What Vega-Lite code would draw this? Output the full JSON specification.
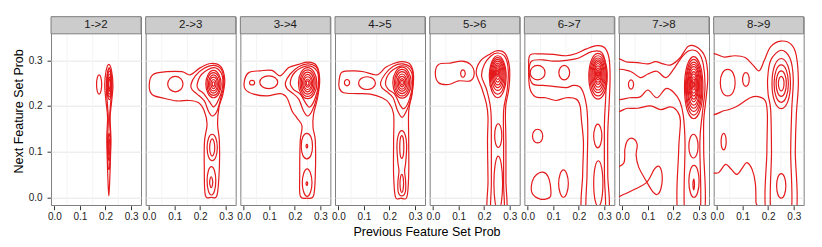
{
"$schema": "https://vega.github.io/schema/vega-lite/v6.json",
"padding": {"left": 12, "top": 15.7, "right": 5, "bottom": 5},
"autosize": {"type": "pad"},
"bounds": "flush",
"config": {"font": "Liberation Sans", "view": {"stroke": "#7f7f7f", "strokeWidth": 1}, "axisX": {"labelOverlap": false, "labelBound": false, "labelSeparation": -30}},
"spacing": 4.67,
"data": {"values": [
{"p":"1->2","c":"L","x":0.185,"y":0.247},{"p":"1->2","c":"L","x":0.182,"y":0.262},{"p":"1->2","c":"L","x":0.175,"y":0.268},{"p":"1->2","c":"L","x":0.168,"y":0.262},{"p":"1->2","c":"L","x":0.165,"y":0.247},{"p":"1->2","c":"L","x":0.168,"y":0.232},{"p":"1->2","c":"L","x":0.175,"y":0.226},{"p":"1->2","c":"L","x":0.182,"y":0.232},
{"p":"1->2","c":"O","x":0.213,"y":0.291},{"p":"1->2","c":"O","x":0.224,"y":0.276},{"p":"1->2","c":"O","x":0.229,"y":0.245},{"p":"1->2","c":"O","x":0.224,"y":0.21},{"p":"1->2","c":"O","x":0.218,"y":0.175},{"p":"1->2","c":"O","x":0.221,"y":0.13},{"p":"1->2","c":"O","x":0.219,"y":0.08},{"p":"1->2","c":"O","x":0.216,"y":0.03},{"p":"1->2","c":"O","x":0.213,"y":0.003},{"p":"1->2","c":"O","x":0.21,"y":0.03},{"p":"1->2","c":"O","x":0.207,"y":0.08},{"p":"1->2","c":"O","x":0.205,"y":0.13},{"p":"1->2","c":"O","x":0.208,"y":0.175},{"p":"1->2","c":"O","x":0.202,"y":0.21},{"p":"1->2","c":"O","x":0.197,"y":0.245},{"p":"1->2","c":"O","x":0.202,"y":0.276},
{"p":"1->2","c":"S","x":0.214,"y":0.284},{"p":"1->2","c":"S","x":0.222,"y":0.265},{"p":"1->2","c":"S","x":0.225,"y":0.24},{"p":"1->2","c":"S","x":0.219,"y":0.2},{"p":"1->2","c":"S","x":0.216,"y":0.17},{"p":"1->2","c":"S","x":0.22,"y":0.12},{"p":"1->2","c":"S","x":0.216,"y":0.068},{"p":"1->2","c":"S","x":0.213,"y":0.062},{"p":"1->2","c":"S","x":0.21,"y":0.068},{"p":"1->2","c":"S","x":0.208,"y":0.12},{"p":"1->2","c":"S","x":0.211,"y":0.17},{"p":"1->2","c":"S","x":0.208,"y":0.2},{"p":"1->2","c":"S","x":0.203,"y":0.24},{"p":"1->2","c":"S","x":0.206,"y":0.265},
{"p":"1->2","c":"R1","x":0.225,"y":0.248},{"p":"1->2","c":"R1","x":0.222,"y":0.272},{"p":"1->2","c":"R1","x":0.215,"y":0.282},{"p":"1->2","c":"R1","x":0.208,"y":0.272},{"p":"1->2","c":"R1","x":0.205,"y":0.248},{"p":"1->2","c":"R1","x":0.208,"y":0.224},{"p":"1->2","c":"R1","x":0.215,"y":0.214},{"p":"1->2","c":"R1","x":0.222,"y":0.224},
{"p":"1->2","c":"R2","x":0.223,"y":0.248},{"p":"1->2","c":"R2","x":0.221,"y":0.268},{"p":"1->2","c":"R2","x":0.215,"y":0.276},{"p":"1->2","c":"R2","x":0.209,"y":0.268},{"p":"1->2","c":"R2","x":0.207,"y":0.248},{"p":"1->2","c":"R2","x":0.209,"y":0.228},{"p":"1->2","c":"R2","x":0.215,"y":0.22},{"p":"1->2","c":"R2","x":0.221,"y":0.228},
{"p":"1->2","c":"R3","x":0.2215,"y":0.248},{"p":"1->2","c":"R3","x":0.22,"y":0.264},{"p":"1->2","c":"R3","x":0.215,"y":0.27},{"p":"1->2","c":"R3","x":0.21,"y":0.264},{"p":"1->2","c":"R3","x":0.2085,"y":0.248},{"p":"1->2","c":"R3","x":0.21,"y":0.232},{"p":"1->2","c":"R3","x":0.215,"y":0.226},{"p":"1->2","c":"R3","x":0.22,"y":0.232},
{"p":"1->2","c":"R4","x":0.22,"y":0.248},{"p":"1->2","c":"R4","x":0.2185,"y":0.259},{"p":"1->2","c":"R4","x":0.215,"y":0.264},{"p":"1->2","c":"R4","x":0.2115,"y":0.259},{"p":"1->2","c":"R4","x":0.21,"y":0.248},{"p":"1->2","c":"R4","x":0.2115,"y":0.237},{"p":"1->2","c":"R4","x":0.215,"y":0.232},{"p":"1->2","c":"R4","x":0.2185,"y":0.237},
{"p":"1->2","c":"R5","x":0.2185,"y":0.248},{"p":"1->2","c":"R5","x":0.2175,"y":0.256},{"p":"1->2","c":"R5","x":0.215,"y":0.259},{"p":"1->2","c":"R5","x":0.2125,"y":0.256},{"p":"1->2","c":"R5","x":0.2115,"y":0.248},{"p":"1->2","c":"R5","x":0.2125,"y":0.24},{"p":"1->2","c":"R5","x":0.215,"y":0.237},{"p":"1->2","c":"R5","x":0.2175,"y":0.24},
{"p":"1->2","c":"M1","x":0.2185,"y":0.11},{"p":"1->2","c":"M1","x":0.2172,"y":0.131},{"p":"1->2","c":"M1","x":0.214,"y":0.14},{"p":"1->2","c":"M1","x":0.2108,"y":0.131},{"p":"1->2","c":"M1","x":0.2095,"y":0.11},{"p":"1->2","c":"M1","x":0.2108,"y":0.089},{"p":"1->2","c":"M1","x":0.214,"y":0.08},{"p":"1->2","c":"M1","x":0.2172,"y":0.089},
{"p":"1->2","c":"M2","x":0.217,"y":0.11},{"p":"1->2","c":"M2","x":0.216,"y":0.123},{"p":"1->2","c":"M2","x":0.214,"y":0.128},{"p":"1->2","c":"M2","x":0.212,"y":0.123},{"p":"1->2","c":"M2","x":0.211,"y":0.11},{"p":"1->2","c":"M2","x":0.212,"y":0.097},{"p":"1->2","c":"M2","x":0.214,"y":0.092},{"p":"1->2","c":"M2","x":0.216,"y":0.097},

{"p":"2->3","c":"O","x":0.001,"y":0.247},{"p":"2->3","c":"O","x":0.016,"y":0.269},{"p":"2->3","c":"O","x":0.07,"y":0.275},{"p":"2->3","c":"O","x":0.129,"y":0.275},{"p":"2->3","c":"O","x":0.161,"y":0.268},{"p":"2->3","c":"O","x":0.201,"y":0.284},{"p":"2->3","c":"O","x":0.242,"y":0.293},{"p":"2->3","c":"O","x":0.281,"y":0.286},{"p":"2->3","c":"O","x":0.296,"y":0.258},{"p":"2->3","c":"O","x":0.289,"y":0.226},{"p":"2->3","c":"O","x":0.273,"y":0.196},{"p":"2->3","c":"O","x":0.268,"y":0.16},{"p":"2->3","c":"O","x":0.275,"y":0.123},{"p":"2->3","c":"O","x":0.275,"y":0.065},{"p":"2->3","c":"O","x":0.266,"y":0.005},{"p":"2->3","c":"O","x":0.243,"y":0.0},{"p":"2->3","c":"O","x":0.22,"y":0.005},{"p":"2->3","c":"O","x":0.216,"y":0.065},{"p":"2->3","c":"O","x":0.217,"y":0.123},{"p":"2->3","c":"O","x":0.227,"y":0.16},{"p":"2->3","c":"O","x":0.216,"y":0.189},{"p":"2->3","c":"O","x":0.194,"y":0.207},{"p":"2->3","c":"O","x":0.155,"y":0.212},{"p":"2->3","c":"O","x":0.109,"y":0.211},{"p":"2->3","c":"O","x":0.057,"y":0.217},{"p":"2->3","c":"O","x":0.012,"y":0.225},
{"p":"2->3","c":"A","x":0.133,"y":0.248},{"p":"2->3","c":"A","x":0.124,"y":0.26},{"p":"2->3","c":"A","x":0.103,"y":0.265},{"p":"2->3","c":"A","x":0.082,"y":0.26},{"p":"2->3","c":"A","x":0.073,"y":0.248},{"p":"2->3","c":"A","x":0.082,"y":0.236},{"p":"2->3","c":"A","x":0.103,"y":0.231},{"p":"2->3","c":"A","x":0.124,"y":0.236},
{"p":"2->3","c":"B","x":0.164,"y":0.247},{"p":"2->3","c":"B","x":0.181,"y":0.266},{"p":"2->3","c":"B","x":0.214,"y":0.282},{"p":"2->3","c":"B","x":0.253,"y":0.289},{"p":"2->3","c":"B","x":0.284,"y":0.279},{"p":"2->3","c":"B","x":0.292,"y":0.247},{"p":"2->3","c":"B","x":0.281,"y":0.218},{"p":"2->3","c":"B","x":0.266,"y":0.189},{"p":"2->3","c":"B","x":0.247,"y":0.178},{"p":"2->3","c":"B","x":0.232,"y":0.189},{"p":"2->3","c":"B","x":0.216,"y":0.211},{"p":"2->3","c":"B","x":0.188,"y":0.226},{"p":"2->3","c":"B","x":0.168,"y":0.236},
{"p":"2->3","c":"C","x":0.188,"y":0.247},{"p":"2->3","c":"C","x":0.207,"y":0.27},{"p":"2->3","c":"C","x":0.253,"y":0.284},{"p":"2->3","c":"C","x":0.283,"y":0.271},{"p":"2->3","c":"C","x":0.288,"y":0.244},{"p":"2->3","c":"C","x":0.273,"y":0.215},{"p":"2->3","c":"C","x":0.253,"y":0.198},{"p":"2->3","c":"C","x":0.237,"y":0.209},{"p":"2->3","c":"C","x":0.214,"y":0.227},{"p":"2->3","c":"C","x":0.194,"y":0.236},
{"p":"2->3","c":"R1","x":0.282,"y":0.248},{"p":"2->3","c":"R1","x":0.273,"y":0.269},{"p":"2->3","c":"R1","x":0.252,"y":0.278},{"p":"2->3","c":"R1","x":0.231,"y":0.269},{"p":"2->3","c":"R1","x":0.222,"y":0.248},{"p":"2->3","c":"R1","x":0.231,"y":0.227},{"p":"2->3","c":"R1","x":0.252,"y":0.218},{"p":"2->3","c":"R1","x":0.273,"y":0.227},
{"p":"2->3","c":"R2","x":0.277,"y":0.248},{"p":"2->3","c":"R2","x":0.27,"y":0.266},{"p":"2->3","c":"R2","x":0.252,"y":0.273},{"p":"2->3","c":"R2","x":0.234,"y":0.266},{"p":"2->3","c":"R2","x":0.227,"y":0.248},{"p":"2->3","c":"R2","x":0.234,"y":0.23},{"p":"2->3","c":"R2","x":0.252,"y":0.223},{"p":"2->3","c":"R2","x":0.27,"y":0.23},
{"p":"2->3","c":"R3","x":0.272,"y":0.248},{"p":"2->3","c":"R3","x":0.266,"y":0.262},{"p":"2->3","c":"R3","x":0.252,"y":0.268},{"p":"2->3","c":"R3","x":0.238,"y":0.262},{"p":"2->3","c":"R3","x":0.232,"y":0.248},{"p":"2->3","c":"R3","x":0.238,"y":0.234},{"p":"2->3","c":"R3","x":0.252,"y":0.228},{"p":"2->3","c":"R3","x":0.266,"y":0.234},
{"p":"2->3","c":"R4","x":0.267,"y":0.248},{"p":"2->3","c":"R4","x":0.263,"y":0.259},{"p":"2->3","c":"R4","x":0.252,"y":0.263},{"p":"2->3","c":"R4","x":0.241,"y":0.259},{"p":"2->3","c":"R4","x":0.237,"y":0.248},{"p":"2->3","c":"R4","x":0.241,"y":0.237},{"p":"2->3","c":"R4","x":0.252,"y":0.233},{"p":"2->3","c":"R4","x":0.263,"y":0.237},
{"p":"2->3","c":"R5","x":0.262,"y":0.248},{"p":"2->3","c":"R5","x":0.259,"y":0.255},{"p":"2->3","c":"R5","x":0.252,"y":0.258},{"p":"2->3","c":"R5","x":0.245,"y":0.255},{"p":"2->3","c":"R5","x":0.242,"y":0.248},{"p":"2->3","c":"R5","x":0.245,"y":0.241},{"p":"2->3","c":"R5","x":0.252,"y":0.238},{"p":"2->3","c":"R5","x":0.259,"y":0.241},
{"p":"2->3","c":"R6","x":0.257,"y":0.248},{"p":"2->3","c":"R6","x":0.2555,"y":0.2515},{"p":"2->3","c":"R6","x":0.252,"y":0.253},{"p":"2->3","c":"R6","x":0.2485,"y":0.2515},{"p":"2->3","c":"R6","x":0.247,"y":0.248},{"p":"2->3","c":"R6","x":0.2485,"y":0.2445},{"p":"2->3","c":"R6","x":0.252,"y":0.243},{"p":"2->3","c":"R6","x":0.2555,"y":0.2445},
{"p":"2->3","c":"V1","x":0.267,"y":0.109},{"p":"2->3","c":"V1","x":0.261,"y":0.13},{"p":"2->3","c":"V1","x":0.247,"y":0.138},{"p":"2->3","c":"V1","x":0.233,"y":0.13},{"p":"2->3","c":"V1","x":0.227,"y":0.109},{"p":"2->3","c":"V1","x":0.233,"y":0.088},{"p":"2->3","c":"V1","x":0.247,"y":0.08},{"p":"2->3","c":"V1","x":0.261,"y":0.088},
{"p":"2->3","c":"V2","x":0.257,"y":0.109},{"p":"2->3","c":"V2","x":0.254,"y":0.122},{"p":"2->3","c":"V2","x":0.247,"y":0.128},{"p":"2->3","c":"V2","x":0.24,"y":0.122},{"p":"2->3","c":"V2","x":0.237,"y":0.109},{"p":"2->3","c":"V2","x":0.24,"y":0.096},{"p":"2->3","c":"V2","x":0.247,"y":0.09},{"p":"2->3","c":"V2","x":0.254,"y":0.096},
{"p":"2->3","c":"W1","x":0.261,"y":0.036},{"p":"2->3","c":"W1","x":0.256,"y":0.058},{"p":"2->3","c":"W1","x":0.244,"y":0.067},{"p":"2->3","c":"W1","x":0.232,"y":0.058},{"p":"2->3","c":"W1","x":0.227,"y":0.036},{"p":"2->3","c":"W1","x":0.232,"y":0.014},{"p":"2->3","c":"W1","x":0.244,"y":0.005},{"p":"2->3","c":"W1","x":0.256,"y":0.014},
{"p":"2->3","c":"W2","x":0.249,"y":0.033},{"p":"2->3","c":"W2","x":0.247,"y":0.041},{"p":"2->3","c":"W2","x":0.243,"y":0.045},{"p":"2->3","c":"W2","x":0.239,"y":0.041},{"p":"2->3","c":"W2","x":0.237,"y":0.033},{"p":"2->3","c":"W2","x":0.239,"y":0.025},{"p":"2->3","c":"W2","x":0.243,"y":0.021},{"p":"2->3","c":"W2","x":0.247,"y":0.025},

{"p":"3->4","c":"O","x":0.003,"y":0.255},{"p":"3->4","c":"O","x":0.02,"y":0.273},{"p":"3->4","c":"O","x":0.065,"y":0.277},{"p":"3->4","c":"O","x":0.111,"y":0.278},{"p":"3->4","c":"O","x":0.143,"y":0.266},{"p":"3->4","c":"O","x":0.176,"y":0.284},{"p":"3->4","c":"O","x":0.215,"y":0.291},{"p":"3->4","c":"O","x":0.25,"y":0.296},{"p":"3->4","c":"O","x":0.284,"y":0.289},{"p":"3->4","c":"O","x":0.297,"y":0.258},{"p":"3->4","c":"O","x":0.289,"y":0.218},{"p":"3->4","c":"O","x":0.273,"y":0.182},{"p":"3->4","c":"O","x":0.271,"y":0.153},{"p":"3->4","c":"O","x":0.28,"y":0.123},{"p":"3->4","c":"O","x":0.28,"y":0.05},{"p":"3->4","c":"O","x":0.273,"y":0.003},{"p":"3->4","c":"O","x":0.247,"y":-0.002},{"p":"3->4","c":"O","x":0.221,"y":0.003},{"p":"3->4","c":"O","x":0.219,"y":0.05},{"p":"3->4","c":"O","x":0.221,"y":0.123},{"p":"3->4","c":"O","x":0.228,"y":0.156},{"p":"3->4","c":"O","x":0.208,"y":0.174},{"p":"3->4","c":"O","x":0.189,"y":0.189},{"p":"3->4","c":"O","x":0.169,"y":0.218},{"p":"3->4","c":"O","x":0.143,"y":0.227},{"p":"3->4","c":"O","x":0.091,"y":0.222},{"p":"3->4","c":"O","x":0.039,"y":0.226},{"p":"3->4","c":"O","x":0.007,"y":0.236},
{"p":"3->4","c":"T","x":0.043,"y":0.251},{"p":"3->4","c":"T","x":0.04,"y":0.255},{"p":"3->4","c":"T","x":0.033,"y":0.256},{"p":"3->4","c":"T","x":0.026,"y":0.255},{"p":"3->4","c":"T","x":0.023,"y":0.251},{"p":"3->4","c":"T","x":0.026,"y":0.247},{"p":"3->4","c":"T","x":0.033,"y":0.246},{"p":"3->4","c":"T","x":0.04,"y":0.247},
{"p":"3->4","c":"A","x":0.133,"y":0.252},{"p":"3->4","c":"A","x":0.123,"y":0.262},{"p":"3->4","c":"A","x":0.098,"y":0.266},{"p":"3->4","c":"A","x":0.073,"y":0.262},{"p":"3->4","c":"A","x":0.063,"y":0.252},{"p":"3->4","c":"A","x":0.073,"y":0.242},{"p":"3->4","c":"A","x":0.098,"y":0.238},{"p":"3->4","c":"A","x":0.123,"y":0.242},
{"p":"3->4","c":"B","x":0.163,"y":0.251},{"p":"3->4","c":"B","x":0.182,"y":0.27},{"p":"3->4","c":"B","x":0.215,"y":0.286},{"p":"3->4","c":"B","x":0.254,"y":0.292},{"p":"3->4","c":"B","x":0.289,"y":0.281},{"p":"3->4","c":"B","x":0.294,"y":0.247},{"p":"3->4","c":"B","x":0.284,"y":0.215},{"p":"3->4","c":"B","x":0.267,"y":0.189},{"p":"3->4","c":"B","x":0.25,"y":0.178},{"p":"3->4","c":"B","x":0.234,"y":0.189},{"p":"3->4","c":"B","x":0.215,"y":0.215},{"p":"3->4","c":"B","x":0.189,"y":0.229},{"p":"3->4","c":"B","x":0.169,"y":0.238},
{"p":"3->4","c":"C","x":0.182,"y":0.251},{"p":"3->4","c":"C","x":0.202,"y":0.275},{"p":"3->4","c":"C","x":0.25,"y":0.288},{"p":"3->4","c":"C","x":0.287,"y":0.276},{"p":"3->4","c":"C","x":0.292,"y":0.247},{"p":"3->4","c":"C","x":0.28,"y":0.218},{"p":"3->4","c":"C","x":0.26,"y":0.198},{"p":"3->4","c":"C","x":0.245,"y":0.204},{"p":"3->4","c":"C","x":0.221,"y":0.226},{"p":"3->4","c":"C","x":0.195,"y":0.236},
{"p":"3->4","c":"R1","x":0.286,"y":0.25},{"p":"3->4","c":"R1","x":0.275,"y":0.274},{"p":"3->4","c":"R1","x":0.25,"y":0.284},{"p":"3->4","c":"R1","x":0.225,"y":0.274},{"p":"3->4","c":"R1","x":0.214,"y":0.25},{"p":"3->4","c":"R1","x":0.225,"y":0.226},{"p":"3->4","c":"R1","x":0.25,"y":0.216},{"p":"3->4","c":"R1","x":0.275,"y":0.226},
{"p":"3->4","c":"R2","x":0.28,"y":0.25},{"p":"3->4","c":"R2","x":0.271,"y":0.271},{"p":"3->4","c":"R2","x":0.25,"y":0.279},{"p":"3->4","c":"R2","x":0.229,"y":0.271},{"p":"3->4","c":"R2","x":0.22,"y":0.25},{"p":"3->4","c":"R2","x":0.229,"y":0.229},{"p":"3->4","c":"R2","x":0.25,"y":0.221},{"p":"3->4","c":"R2","x":0.271,"y":0.229},
{"p":"3->4","c":"R3","x":0.275,"y":0.25},{"p":"3->4","c":"R3","x":0.268,"y":0.267},{"p":"3->4","c":"R3","x":0.25,"y":0.274},{"p":"3->4","c":"R3","x":0.232,"y":0.267},{"p":"3->4","c":"R3","x":0.225,"y":0.25},{"p":"3->4","c":"R3","x":0.232,"y":0.233},{"p":"3->4","c":"R3","x":0.25,"y":0.226},{"p":"3->4","c":"R3","x":0.268,"y":0.233},
{"p":"3->4","c":"R4","x":0.27,"y":0.25},{"p":"3->4","c":"R4","x":0.264,"y":0.263},{"p":"3->4","c":"R4","x":0.25,"y":0.269},{"p":"3->4","c":"R4","x":0.236,"y":0.263},{"p":"3->4","c":"R4","x":0.23,"y":0.25},{"p":"3->4","c":"R4","x":0.236,"y":0.237},{"p":"3->4","c":"R4","x":0.25,"y":0.231},{"p":"3->4","c":"R4","x":0.264,"y":0.237},
{"p":"3->4","c":"R5","x":0.265,"y":0.25},{"p":"3->4","c":"R5","x":0.261,"y":0.26},{"p":"3->4","c":"R5","x":0.25,"y":0.264},{"p":"3->4","c":"R5","x":0.239,"y":0.26},{"p":"3->4","c":"R5","x":0.235,"y":0.25},{"p":"3->4","c":"R5","x":0.239,"y":0.24},{"p":"3->4","c":"R5","x":0.25,"y":0.236},{"p":"3->4","c":"R5","x":0.261,"y":0.24},
{"p":"3->4","c":"R6","x":0.26,"y":0.25},{"p":"3->4","c":"R6","x":0.257,"y":0.256},{"p":"3->4","c":"R6","x":0.25,"y":0.259},{"p":"3->4","c":"R6","x":0.243,"y":0.256},{"p":"3->4","c":"R6","x":0.24,"y":0.25},{"p":"3->4","c":"R6","x":0.243,"y":0.244},{"p":"3->4","c":"R6","x":0.25,"y":0.241},{"p":"3->4","c":"R6","x":0.257,"y":0.244},
{"p":"3->4","c":"R7","x":0.255,"y":0.25},{"p":"3->4","c":"R7","x":0.2535,"y":0.2535},{"p":"3->4","c":"R7","x":0.25,"y":0.255},{"p":"3->4","c":"R7","x":0.2465,"y":0.2535},{"p":"3->4","c":"R7","x":0.245,"y":0.25},{"p":"3->4","c":"R7","x":0.2465,"y":0.2465},{"p":"3->4","c":"R7","x":0.25,"y":0.245},{"p":"3->4","c":"R7","x":0.2535,"y":0.2465},
{"p":"3->4","c":"V1","x":0.269,"y":0.112},{"p":"3->4","c":"V1","x":0.263,"y":0.132},{"p":"3->4","c":"V1","x":0.247,"y":0.14},{"p":"3->4","c":"V1","x":0.231,"y":0.132},{"p":"3->4","c":"V1","x":0.225,"y":0.112},{"p":"3->4","c":"V1","x":0.231,"y":0.092},{"p":"3->4","c":"V1","x":0.247,"y":0.084},{"p":"3->4","c":"V1","x":0.263,"y":0.092},
{"p":"3->4","c":"V2","x":0.25,"y":0.112},{"p":"3->4","c":"V2","x":0.249,"y":0.115},{"p":"3->4","c":"V2","x":0.247,"y":0.116},{"p":"3->4","c":"V2","x":0.245,"y":0.115},{"p":"3->4","c":"V2","x":0.244,"y":0.112},{"p":"3->4","c":"V2","x":0.245,"y":0.109},{"p":"3->4","c":"V2","x":0.247,"y":0.108},{"p":"3->4","c":"V2","x":0.249,"y":0.109},
{"p":"3->4","c":"W1","x":0.267,"y":0.032},{"p":"3->4","c":"W1","x":0.261,"y":0.053},{"p":"3->4","c":"W1","x":0.248,"y":0.062},{"p":"3->4","c":"W1","x":0.235,"y":0.053},{"p":"3->4","c":"W1","x":0.229,"y":0.032},{"p":"3->4","c":"W1","x":0.235,"y":0.011},{"p":"3->4","c":"W1","x":0.248,"y":0.002},{"p":"3->4","c":"W1","x":0.261,"y":0.011},
{"p":"3->4","c":"W2","x":0.25,"y":0.03},{"p":"3->4","c":"W2","x":0.249,"y":0.033},{"p":"3->4","c":"W2","x":0.247,"y":0.034},{"p":"3->4","c":"W2","x":0.245,"y":0.033},{"p":"3->4","c":"W2","x":0.244,"y":0.03},{"p":"3->4","c":"W2","x":0.245,"y":0.027},{"p":"3->4","c":"W2","x":0.247,"y":0.026},{"p":"3->4","c":"W2","x":0.249,"y":0.027},

{"p":"4->5","c":"O","x":0.003,"y":0.255},{"p":"4->5","c":"O","x":0.014,"y":0.274},{"p":"4->5","c":"O","x":0.06,"y":0.277},{"p":"4->5","c":"O","x":0.099,"y":0.275},{"p":"4->5","c":"O","x":0.151,"y":0.268},{"p":"4->5","c":"O","x":0.184,"y":0.284},{"p":"4->5","c":"O","x":0.216,"y":0.293},{"p":"4->5","c":"O","x":0.249,"y":0.297},{"p":"4->5","c":"O","x":0.281,"y":0.291},{"p":"4->5","c":"O","x":0.294,"y":0.266},{"p":"4->5","c":"O","x":0.288,"y":0.226},{"p":"4->5","c":"O","x":0.275,"y":0.189},{"p":"4->5","c":"O","x":0.275,"y":0.123},{"p":"4->5","c":"O","x":0.275,"y":0.05},{"p":"4->5","c":"O","x":0.268,"y":0.001},{"p":"4->5","c":"O","x":0.245,"y":-0.002},{"p":"4->5","c":"O","x":0.223,"y":0.001},{"p":"4->5","c":"O","x":0.216,"y":0.05},{"p":"4->5","c":"O","x":0.216,"y":0.123},{"p":"4->5","c":"O","x":0.216,"y":0.182},{"p":"4->5","c":"O","x":0.197,"y":0.207},{"p":"4->5","c":"O","x":0.171,"y":0.218},{"p":"4->5","c":"O","x":0.125,"y":0.226},{"p":"4->5","c":"O","x":0.073,"y":0.227},{"p":"4->5","c":"O","x":0.021,"y":0.229},{"p":"4->5","c":"O","x":0.004,"y":0.239},
{"p":"4->5","c":"T","x":0.044,"y":0.251},{"p":"4->5","c":"T","x":0.041,"y":0.256},{"p":"4->5","c":"T","x":0.034,"y":0.258},{"p":"4->5","c":"T","x":0.027,"y":0.256},{"p":"4->5","c":"T","x":0.024,"y":0.251},{"p":"4->5","c":"T","x":0.027,"y":0.246},{"p":"4->5","c":"T","x":0.034,"y":0.244},{"p":"4->5","c":"T","x":0.041,"y":0.246},
{"p":"4->5","c":"A","x":0.145,"y":0.25},{"p":"4->5","c":"A","x":0.135,"y":0.26},{"p":"4->5","c":"A","x":0.112,"y":0.264},{"p":"4->5","c":"A","x":0.089,"y":0.26},{"p":"4->5","c":"A","x":0.079,"y":0.25},{"p":"4->5","c":"A","x":0.089,"y":0.24},{"p":"4->5","c":"A","x":0.112,"y":0.236},{"p":"4->5","c":"A","x":0.135,"y":0.24},
{"p":"4->5","c":"B","x":0.165,"y":0.251},{"p":"4->5","c":"B","x":0.183,"y":0.27},{"p":"4->5","c":"B","x":0.215,"y":0.287},{"p":"4->5","c":"B","x":0.252,"y":0.292},{"p":"4->5","c":"B","x":0.287,"y":0.281},{"p":"4->5","c":"B","x":0.292,"y":0.25},{"p":"4->5","c":"B","x":0.283,"y":0.215},{"p":"4->5","c":"B","x":0.266,"y":0.189},{"p":"4->5","c":"B","x":0.249,"y":0.175},{"p":"4->5","c":"B","x":0.232,"y":0.189},{"p":"4->5","c":"B","x":0.214,"y":0.218},{"p":"4->5","c":"B","x":0.19,"y":0.231},{"p":"4->5","c":"B","x":0.17,"y":0.24},
{"p":"4->5","c":"C","x":0.184,"y":0.25},{"p":"4->5","c":"C","x":0.203,"y":0.274},{"p":"4->5","c":"C","x":0.249,"y":0.288},{"p":"4->5","c":"C","x":0.284,"y":0.276},{"p":"4->5","c":"C","x":0.29,"y":0.247},{"p":"4->5","c":"C","x":0.278,"y":0.215},{"p":"4->5","c":"C","x":0.259,"y":0.195},{"p":"4->5","c":"C","x":0.243,"y":0.2},{"p":"4->5","c":"C","x":0.22,"y":0.226},{"p":"4->5","c":"C","x":0.196,"y":0.236},
{"p":"4->5","c":"R1","x":0.285,"y":0.251},{"p":"4->5","c":"R1","x":0.274,"y":0.275},{"p":"4->5","c":"R1","x":0.249,"y":0.285},{"p":"4->5","c":"R1","x":0.224,"y":0.275},{"p":"4->5","c":"R1","x":0.213,"y":0.251},{"p":"4->5","c":"R1","x":0.224,"y":0.227},{"p":"4->5","c":"R1","x":0.249,"y":0.217},{"p":"4->5","c":"R1","x":0.274,"y":0.227},
{"p":"4->5","c":"R2","x":0.279,"y":0.251},{"p":"4->5","c":"R2","x":0.27,"y":0.272},{"p":"4->5","c":"R2","x":0.249,"y":0.28},{"p":"4->5","c":"R2","x":0.228,"y":0.272},{"p":"4->5","c":"R2","x":0.219,"y":0.251},{"p":"4->5","c":"R2","x":0.228,"y":0.23},{"p":"4->5","c":"R2","x":0.249,"y":0.222},{"p":"4->5","c":"R2","x":0.27,"y":0.23},
{"p":"4->5","c":"R3","x":0.274,"y":0.251},{"p":"4->5","c":"R3","x":0.267,"y":0.268},{"p":"4->5","c":"R3","x":0.249,"y":0.275},{"p":"4->5","c":"R3","x":0.231,"y":0.268},{"p":"4->5","c":"R3","x":0.224,"y":0.251},{"p":"4->5","c":"R3","x":0.231,"y":0.234},{"p":"4->5","c":"R3","x":0.249,"y":0.227},{"p":"4->5","c":"R3","x":0.267,"y":0.234},
{"p":"4->5","c":"R4","x":0.269,"y":0.251},{"p":"4->5","c":"R4","x":0.263,"y":0.264},{"p":"4->5","c":"R4","x":0.249,"y":0.27},{"p":"4->5","c":"R4","x":0.235,"y":0.264},{"p":"4->5","c":"R4","x":0.229,"y":0.251},{"p":"4->5","c":"R4","x":0.235,"y":0.238},{"p":"4->5","c":"R4","x":0.249,"y":0.232},{"p":"4->5","c":"R4","x":0.263,"y":0.238},
{"p":"4->5","c":"R5","x":0.264,"y":0.251},{"p":"4->5","c":"R5","x":0.26,"y":0.261},{"p":"4->5","c":"R5","x":0.249,"y":0.265},{"p":"4->5","c":"R5","x":0.238,"y":0.261},{"p":"4->5","c":"R5","x":0.234,"y":0.251},{"p":"4->5","c":"R5","x":0.238,"y":0.241},{"p":"4->5","c":"R5","x":0.249,"y":0.237},{"p":"4->5","c":"R5","x":0.26,"y":0.241},
{"p":"4->5","c":"R6","x":0.259,"y":0.251},{"p":"4->5","c":"R6","x":0.256,"y":0.257},{"p":"4->5","c":"R6","x":0.249,"y":0.26},{"p":"4->5","c":"R6","x":0.242,"y":0.257},{"p":"4->5","c":"R6","x":0.239,"y":0.251},{"p":"4->5","c":"R6","x":0.242,"y":0.245},{"p":"4->5","c":"R6","x":0.249,"y":0.242},{"p":"4->5","c":"R6","x":0.256,"y":0.245},
{"p":"4->5","c":"R7","x":0.254,"y":0.251},{"p":"4->5","c":"R7","x":0.2525,"y":0.2545},{"p":"4->5","c":"R7","x":0.249,"y":0.256},{"p":"4->5","c":"R7","x":0.2455,"y":0.2545},{"p":"4->5","c":"R7","x":0.244,"y":0.251},{"p":"4->5","c":"R7","x":0.2455,"y":0.2475},{"p":"4->5","c":"R7","x":0.249,"y":0.246},{"p":"4->5","c":"R7","x":0.2525,"y":0.2475},
{"p":"4->5","c":"V","x":0.248,"y":0.146},{"p":"4->5","c":"V","x":0.262,"y":0.135},{"p":"4->5","c":"V","x":0.267,"y":0.11},{"p":"4->5","c":"V","x":0.263,"y":0.075},{"p":"4->5","c":"V","x":0.259,"y":0.058},{"p":"4->5","c":"V","x":0.263,"y":0.035},{"p":"4->5","c":"V","x":0.262,"y":0.012},{"p":"4->5","c":"V","x":0.248,"y":0.003},{"p":"4->5","c":"V","x":0.234,"y":0.012},{"p":"4->5","c":"V","x":0.233,"y":0.035},{"p":"4->5","c":"V","x":0.237,"y":0.058},{"p":"4->5","c":"V","x":0.233,"y":0.075},{"p":"4->5","c":"V","x":0.229,"y":0.11},{"p":"4->5","c":"V","x":0.234,"y":0.135},
{"p":"4->5","c":"V2","x":0.256,"y":0.11},{"p":"4->5","c":"V2","x":0.254,"y":0.128},{"p":"4->5","c":"V2","x":0.248,"y":0.135},{"p":"4->5","c":"V2","x":0.242,"y":0.128},{"p":"4->5","c":"V2","x":0.24,"y":0.11},{"p":"4->5","c":"V2","x":0.242,"y":0.092},{"p":"4->5","c":"V2","x":0.248,"y":0.085},{"p":"4->5","c":"V2","x":0.254,"y":0.092},
{"p":"4->5","c":"W2","x":0.255,"y":0.03},{"p":"4->5","c":"W2","x":0.253,"y":0.044},{"p":"4->5","c":"W2","x":0.248,"y":0.05},{"p":"4->5","c":"W2","x":0.243,"y":0.044},{"p":"4->5","c":"W2","x":0.241,"y":0.03},{"p":"4->5","c":"W2","x":0.243,"y":0.016},{"p":"4->5","c":"W2","x":0.248,"y":0.01},{"p":"4->5","c":"W2","x":0.253,"y":0.016},

{"p":"5->6","c":"H","x":0.009,"y":0.272},{"p":"5->6","c":"H","x":0.022,"y":0.291},{"p":"5->6","c":"H","x":0.068,"y":0.294},{"p":"5->6","c":"H","x":0.113,"y":0.298},{"p":"5->6","c":"H","x":0.146,"y":0.291},{"p":"5->6","c":"H","x":0.161,"y":0.272},{"p":"5->6","c":"H","x":0.146,"y":0.255},{"p":"5->6","c":"H","x":0.1,"y":0.255},{"p":"5->6","c":"H","x":0.061,"y":0.247},{"p":"5->6","c":"H","x":0.022,"y":0.251},
{"p":"5->6","c":"A","x":0.126,"y":0.271},{"p":"5->6","c":"A","x":0.123,"y":0.277},{"p":"5->6","c":"A","x":0.117,"y":0.279},{"p":"5->6","c":"A","x":0.111,"y":0.277},{"p":"5->6","c":"A","x":0.108,"y":0.271},{"p":"5->6","c":"A","x":0.111,"y":0.265},{"p":"5->6","c":"A","x":0.117,"y":0.263},{"p":"5->6","c":"A","x":0.123,"y":0.265},
{"p":"5->6","c":"O","x":0.169,"y":0.272},{"p":"5->6","c":"O","x":0.185,"y":0.298},{"p":"5->6","c":"O","x":0.224,"y":0.314},{"p":"5->6","c":"O","x":0.253,"y":0.321},{"p":"5->6","c":"O","x":0.283,"y":0.314},{"p":"5->6","c":"O","x":0.299,"y":0.284},{"p":"5->6","c":"O","x":0.297,"y":0.24},{"p":"5->6","c":"O","x":0.285,"y":0.204},{"p":"5->6","c":"O","x":0.283,"y":0.174},{"p":"5->6","c":"O","x":0.285,"y":0.123},{"p":"5->6","c":"O","x":0.285,"y":0.036},{"p":"5->6","c":"O","x":0.285,"y":-0.04},{"p":"5->6","c":"O","x":0.215,"y":-0.04},{"p":"5->6","c":"O","x":0.215,"y":0.036},{"p":"5->6","c":"O","x":0.213,"y":0.123},{"p":"5->6","c":"O","x":0.215,"y":0.174},{"p":"5->6","c":"O","x":0.209,"y":0.204},{"p":"5->6","c":"O","x":0.19,"y":0.24},
{"p":"5->6","c":"S","x":0.19,"y":0.265},{"p":"5->6","c":"S","x":0.2,"y":0.29},{"p":"5->6","c":"S","x":0.225,"y":0.309},{"p":"5->6","c":"S","x":0.253,"y":0.316},{"p":"5->6","c":"S","x":0.282,"y":0.307},{"p":"5->6","c":"S","x":0.294,"y":0.28},{"p":"5->6","c":"S","x":0.29,"y":0.235},{"p":"5->6","c":"S","x":0.276,"y":0.19},{"p":"5->6","c":"S","x":0.276,"y":0.12},{"p":"5->6","c":"S","x":0.276,"y":0.03},{"p":"5->6","c":"S","x":0.276,"y":-0.04},{"p":"5->6","c":"S","x":0.228,"y":-0.04},{"p":"5->6","c":"S","x":0.228,"y":0.03},{"p":"5->6","c":"S","x":0.228,"y":0.12},{"p":"5->6","c":"S","x":0.226,"y":0.19},{"p":"5->6","c":"S","x":0.21,"y":0.235},
{"p":"5->6","c":"R1","x":0.286,"y":0.264},{"p":"5->6","c":"R1","x":0.276,"y":0.297},{"p":"5->6","c":"R1","x":0.253,"y":0.31},{"p":"5->6","c":"R1","x":0.23,"y":0.297},{"p":"5->6","c":"R1","x":0.22,"y":0.264},{"p":"5->6","c":"R1","x":0.23,"y":0.232},{"p":"5->6","c":"R1","x":0.253,"y":0.218},{"p":"5->6","c":"R1","x":0.276,"y":0.232},
{"p":"5->6","c":"R2","x":0.282,"y":0.266},{"p":"5->6","c":"R2","x":0.274,"y":0.294},{"p":"5->6","c":"R2","x":0.253,"y":0.306},{"p":"5->6","c":"R2","x":0.232,"y":0.294},{"p":"5->6","c":"R2","x":0.224,"y":0.266},{"p":"5->6","c":"R2","x":0.232,"y":0.238},{"p":"5->6","c":"R2","x":0.253,"y":0.226},{"p":"5->6","c":"R2","x":0.274,"y":0.238},
{"p":"5->6","c":"R3","x":0.278,"y":0.268},{"p":"5->6","c":"R3","x":0.271,"y":0.292},{"p":"5->6","c":"R3","x":0.253,"y":0.302},{"p":"5->6","c":"R3","x":0.235,"y":0.292},{"p":"5->6","c":"R3","x":0.228,"y":0.268},{"p":"5->6","c":"R3","x":0.235,"y":0.244},{"p":"5->6","c":"R3","x":0.253,"y":0.234},{"p":"5->6","c":"R3","x":0.271,"y":0.244},
{"p":"5->6","c":"R4","x":0.274,"y":0.269},{"p":"5->6","c":"R4","x":0.268,"y":0.29},{"p":"5->6","c":"R4","x":0.253,"y":0.298},{"p":"5->6","c":"R4","x":0.238,"y":0.29},{"p":"5->6","c":"R4","x":0.232,"y":0.269},{"p":"5->6","c":"R4","x":0.238,"y":0.249},{"p":"5->6","c":"R4","x":0.253,"y":0.24},{"p":"5->6","c":"R4","x":0.268,"y":0.249},
{"p":"5->6","c":"R5","x":0.27,"y":0.27},{"p":"5->6","c":"R5","x":0.265,"y":0.287},{"p":"5->6","c":"R5","x":0.253,"y":0.294},{"p":"5->6","c":"R5","x":0.241,"y":0.287},{"p":"5->6","c":"R5","x":0.236,"y":0.27},{"p":"5->6","c":"R5","x":0.241,"y":0.253},{"p":"5->6","c":"R5","x":0.253,"y":0.246},{"p":"5->6","c":"R5","x":0.265,"y":0.253},
{"p":"5->6","c":"R6","x":0.266,"y":0.271},{"p":"5->6","c":"R6","x":0.262,"y":0.284},{"p":"5->6","c":"R6","x":0.253,"y":0.29},{"p":"5->6","c":"R6","x":0.244,"y":0.284},{"p":"5->6","c":"R6","x":0.24,"y":0.271},{"p":"5->6","c":"R6","x":0.244,"y":0.258},{"p":"5->6","c":"R6","x":0.253,"y":0.252},{"p":"5->6","c":"R6","x":0.262,"y":0.258},
{"p":"5->6","c":"R7","x":0.262,"y":0.272},{"p":"5->6","c":"R7","x":0.259,"y":0.282},{"p":"5->6","c":"R7","x":0.253,"y":0.286},{"p":"5->6","c":"R7","x":0.247,"y":0.282},{"p":"5->6","c":"R7","x":0.244,"y":0.272},{"p":"5->6","c":"R7","x":0.247,"y":0.262},{"p":"5->6","c":"R7","x":0.253,"y":0.258},{"p":"5->6","c":"R7","x":0.259,"y":0.262},
{"p":"5->6","c":"R8","x":0.259,"y":0.273},{"p":"5->6","c":"R8","x":0.257,"y":0.279},{"p":"5->6","c":"R8","x":0.253,"y":0.282},{"p":"5->6","c":"R8","x":0.249,"y":0.279},{"p":"5->6","c":"R8","x":0.247,"y":0.273},{"p":"5->6","c":"R8","x":0.249,"y":0.267},{"p":"5->6","c":"R8","x":0.253,"y":0.264},{"p":"5->6","c":"R8","x":0.257,"y":0.267},
{"p":"5->6","c":"R9","x":0.256,"y":0.273},{"p":"5->6","c":"R9","x":0.255,"y":0.277},{"p":"5->6","c":"R9","x":0.253,"y":0.278},{"p":"5->6","c":"R9","x":0.251,"y":0.277},{"p":"5->6","c":"R9","x":0.25,"y":0.273},{"p":"5->6","c":"R9","x":0.251,"y":0.269},{"p":"5->6","c":"R9","x":0.253,"y":0.268},{"p":"5->6","c":"R9","x":0.255,"y":0.269},
{"p":"5->6","c":"V1","x":0.269,"y":0.135},{"p":"5->6","c":"V1","x":0.265,"y":0.153},{"p":"5->6","c":"V1","x":0.255,"y":0.161},{"p":"5->6","c":"V1","x":0.245,"y":0.153},{"p":"5->6","c":"V1","x":0.241,"y":0.135},{"p":"5->6","c":"V1","x":0.245,"y":0.117},{"p":"5->6","c":"V1","x":0.255,"y":0.109},{"p":"5->6","c":"V1","x":0.265,"y":0.117},
{"p":"5->6","c":"W1","x":0.272,"y":0.03},{"p":"5->6","c":"W1","x":0.267,"y":0.072},{"p":"5->6","c":"W1","x":0.255,"y":0.09},{"p":"5->6","c":"W1","x":0.243,"y":0.072},{"p":"5->6","c":"W1","x":0.238,"y":0.03},{"p":"5->6","c":"W1","x":0.243,"y":-0.012},{"p":"5->6","c":"W1","x":0.255,"y":-0.03},{"p":"5->6","c":"W1","x":0.267,"y":-0.012},

{"p":"6->7","c":"O","x":0.004,"y":0.29},{"p":"6->7","c":"O","x":0.01,"y":0.312},{"p":"6->7","c":"O","x":0.05,"y":0.314},{"p":"6->7","c":"O","x":0.1,"y":0.313},{"p":"6->7","c":"O","x":0.15,"y":0.31},{"p":"6->7","c":"O","x":0.19,"y":0.315},{"p":"6->7","c":"O","x":0.23,"y":0.325},{"p":"6->7","c":"O","x":0.27,"y":0.332},{"p":"6->7","c":"O","x":0.3,"y":0.328},{"p":"6->7","c":"O","x":0.318,"y":0.305},{"p":"6->7","c":"O","x":0.322,"y":0.26},{"p":"6->7","c":"O","x":0.318,"y":0.2},{"p":"6->7","c":"O","x":0.313,"y":0.14},{"p":"6->7","c":"O","x":0.313,"y":0.05},{"p":"6->7","c":"O","x":0.313,"y":-0.04},{"p":"6->7","c":"O","x":0.215,"y":-0.04},{"p":"6->7","c":"O","x":0.215,"y":0.05},{"p":"6->7","c":"O","x":0.218,"y":0.12},{"p":"6->7","c":"O","x":0.21,"y":0.17},{"p":"6->7","c":"O","x":0.205,"y":0.2},{"p":"6->7","c":"O","x":0.19,"y":0.215},{"p":"6->7","c":"O","x":0.15,"y":0.218},{"p":"6->7","c":"O","x":0.11,"y":0.212},{"p":"6->7","c":"O","x":0.07,"y":0.218},{"p":"6->7","c":"O","x":0.03,"y":0.22},{"p":"6->7","c":"O","x":0.008,"y":0.24},
{"p":"6->7","c":"S","x":0.006,"y":0.272},{"p":"6->7","c":"S","x":0.015,"y":0.298},{"p":"6->7","c":"S","x":0.06,"y":0.301},{"p":"6->7","c":"S","x":0.1,"y":0.298},{"p":"6->7","c":"S","x":0.15,"y":0.3},{"p":"6->7","c":"S","x":0.2,"y":0.305},{"p":"6->7","c":"S","x":0.25,"y":0.319},{"p":"6->7","c":"S","x":0.29,"y":0.317},{"p":"6->7","c":"S","x":0.307,"y":0.28},{"p":"6->7","c":"S","x":0.305,"y":0.22},{"p":"6->7","c":"S","x":0.3,"y":0.16},{"p":"6->7","c":"S","x":0.3,"y":0.05},{"p":"6->7","c":"S","x":0.3,"y":-0.04},{"p":"6->7","c":"S","x":0.232,"y":-0.04},{"p":"6->7","c":"S","x":0.232,"y":0.05},{"p":"6->7","c":"S","x":0.235,"y":0.15},{"p":"6->7","c":"S","x":0.23,"y":0.2},{"p":"6->7","c":"S","x":0.21,"y":0.238},{"p":"6->7","c":"S","x":0.18,"y":0.245},{"p":"6->7","c":"S","x":0.15,"y":0.24},{"p":"6->7","c":"S","x":0.1,"y":0.243},{"p":"6->7","c":"S","x":0.06,"y":0.245},{"p":"6->7","c":"S","x":0.02,"y":0.248},
{"p":"6->7","c":"A","x":0.068,"y":0.273},{"p":"6->7","c":"A","x":0.06,"y":0.284},{"p":"6->7","c":"A","x":0.039,"y":0.289},{"p":"6->7","c":"A","x":0.018,"y":0.284},{"p":"6->7","c":"A","x":0.01,"y":0.273},{"p":"6->7","c":"A","x":0.018,"y":0.262},{"p":"6->7","c":"A","x":0.039,"y":0.257},{"p":"6->7","c":"A","x":0.06,"y":0.262},
{"p":"6->7","c":"B","x":0.164,"y":0.273},{"p":"6->7","c":"B","x":0.158,"y":0.284},{"p":"6->7","c":"B","x":0.143,"y":0.289},{"p":"6->7","c":"B","x":0.128,"y":0.284},{"p":"6->7","c":"B","x":0.122,"y":0.273},{"p":"6->7","c":"B","x":0.128,"y":0.262},{"p":"6->7","c":"B","x":0.143,"y":0.257},{"p":"6->7","c":"B","x":0.158,"y":0.262},
{"p":"6->7","c":"R1","x":0.311,"y":0.265},{"p":"6->7","c":"R1","x":0.301,"y":0.3},{"p":"6->7","c":"R1","x":0.275,"y":0.315},{"p":"6->7","c":"R1","x":0.249,"y":0.3},{"p":"6->7","c":"R1","x":0.239,"y":0.265},{"p":"6->7","c":"R1","x":0.249,"y":0.23},{"p":"6->7","c":"R1","x":0.275,"y":0.215},{"p":"6->7","c":"R1","x":0.301,"y":0.23},
{"p":"6->7","c":"R2","x":0.307,"y":0.266},{"p":"6->7","c":"R2","x":0.298,"y":0.297},{"p":"6->7","c":"R2","x":0.275,"y":0.31},{"p":"6->7","c":"R2","x":0.252,"y":0.297},{"p":"6->7","c":"R2","x":0.243,"y":0.266},{"p":"6->7","c":"R2","x":0.252,"y":0.235},{"p":"6->7","c":"R2","x":0.275,"y":0.222},{"p":"6->7","c":"R2","x":0.298,"y":0.235},
{"p":"6->7","c":"R3","x":0.303,"y":0.267},{"p":"6->7","c":"R3","x":0.295,"y":0.294},{"p":"6->7","c":"R3","x":0.275,"y":0.305},{"p":"6->7","c":"R3","x":0.255,"y":0.294},{"p":"6->7","c":"R3","x":0.247,"y":0.267},{"p":"6->7","c":"R3","x":0.255,"y":0.24},{"p":"6->7","c":"R3","x":0.275,"y":0.229},{"p":"6->7","c":"R3","x":0.295,"y":0.24},
{"p":"6->7","c":"R4","x":0.299,"y":0.268},{"p":"6->7","c":"R4","x":0.292,"y":0.291},{"p":"6->7","c":"R4","x":0.275,"y":0.301},{"p":"6->7","c":"R4","x":0.258,"y":0.291},{"p":"6->7","c":"R4","x":0.251,"y":0.268},{"p":"6->7","c":"R4","x":0.258,"y":0.245},{"p":"6->7","c":"R4","x":0.275,"y":0.235},{"p":"6->7","c":"R4","x":0.292,"y":0.245},
{"p":"6->7","c":"R5","x":0.295,"y":0.269},{"p":"6->7","c":"R5","x":0.289,"y":0.289},{"p":"6->7","c":"R5","x":0.275,"y":0.297},{"p":"6->7","c":"R5","x":0.261,"y":0.289},{"p":"6->7","c":"R5","x":0.255,"y":0.269},{"p":"6->7","c":"R5","x":0.261,"y":0.249},{"p":"6->7","c":"R5","x":0.275,"y":0.241},{"p":"6->7","c":"R5","x":0.289,"y":0.249},
{"p":"6->7","c":"R6","x":0.291,"y":0.27},{"p":"6->7","c":"R6","x":0.286,"y":0.286},{"p":"6->7","c":"R6","x":0.275,"y":0.293},{"p":"6->7","c":"R6","x":0.264,"y":0.286},{"p":"6->7","c":"R6","x":0.259,"y":0.27},{"p":"6->7","c":"R6","x":0.264,"y":0.254},{"p":"6->7","c":"R6","x":0.275,"y":0.247},{"p":"6->7","c":"R6","x":0.286,"y":0.254},
{"p":"6->7","c":"R7","x":0.288,"y":0.27},{"p":"6->7","c":"R7","x":0.284,"y":0.283},{"p":"6->7","c":"R7","x":0.275,"y":0.288},{"p":"6->7","c":"R7","x":0.266,"y":0.283},{"p":"6->7","c":"R7","x":0.262,"y":0.27},{"p":"6->7","c":"R7","x":0.266,"y":0.257},{"p":"6->7","c":"R7","x":0.275,"y":0.252},{"p":"6->7","c":"R7","x":0.284,"y":0.257},
{"p":"6->7","c":"R8","x":0.285,"y":0.27},{"p":"6->7","c":"R8","x":0.282,"y":0.279},{"p":"6->7","c":"R8","x":0.275,"y":0.283},{"p":"6->7","c":"R8","x":0.268,"y":0.279},{"p":"6->7","c":"R8","x":0.265,"y":0.27},{"p":"6->7","c":"R8","x":0.268,"y":0.261},{"p":"6->7","c":"R8","x":0.275,"y":0.257},{"p":"6->7","c":"R8","x":0.282,"y":0.261},
{"p":"6->7","c":"R9","x":0.281,"y":0.27},{"p":"6->7","c":"R9","x":0.279,"y":0.276},{"p":"6->7","c":"R9","x":0.275,"y":0.279},{"p":"6->7","c":"R9","x":0.271,"y":0.276},{"p":"6->7","c":"R9","x":0.269,"y":0.27},{"p":"6->7","c":"R9","x":0.271,"y":0.264},{"p":"6->7","c":"R9","x":0.275,"y":0.261},{"p":"6->7","c":"R9","x":0.279,"y":0.264},
{"p":"6->7","c":"R10","x":0.278,"y":0.27},{"p":"6->7","c":"R10","x":0.277,"y":0.274},{"p":"6->7","c":"R10","x":0.275,"y":0.275},{"p":"6->7","c":"R10","x":0.273,"y":0.274},{"p":"6->7","c":"R10","x":0.272,"y":0.27},{"p":"6->7","c":"R10","x":0.273,"y":0.266},{"p":"6->7","c":"R10","x":0.275,"y":0.265},{"p":"6->7","c":"R10","x":0.277,"y":0.266},
{"p":"6->7","c":"V1","x":0.29,"y":0.134},{"p":"6->7","c":"V1","x":0.285,"y":0.152},{"p":"6->7","c":"V1","x":0.274,"y":0.16},{"p":"6->7","c":"V1","x":0.263,"y":0.152},{"p":"6->7","c":"V1","x":0.258,"y":0.134},{"p":"6->7","c":"V1","x":0.263,"y":0.116},{"p":"6->7","c":"V1","x":0.274,"y":0.108},{"p":"6->7","c":"V1","x":0.285,"y":0.116},
{"p":"6->7","c":"W1","x":0.294,"y":0.03},{"p":"6->7","c":"W1","x":0.289,"y":0.065},{"p":"6->7","c":"W1","x":0.276,"y":0.08},{"p":"6->7","c":"W1","x":0.263,"y":0.065},{"p":"6->7","c":"W1","x":0.258,"y":0.03},{"p":"6->7","c":"W1","x":0.263,"y":-0.005},{"p":"6->7","c":"W1","x":0.276,"y":-0.02},{"p":"6->7","c":"W1","x":0.289,"y":-0.005},
{"p":"6->7","c":"D1","x":0.059,"y":0.134},{"p":"6->7","c":"D1","x":0.053,"y":0.145},{"p":"6->7","c":"D1","x":0.039,"y":0.149},{"p":"6->7","c":"D1","x":0.025,"y":0.145},{"p":"6->7","c":"D1","x":0.019,"y":0.134},{"p":"6->7","c":"D1","x":0.025,"y":0.123},{"p":"6->7","c":"D1","x":0.039,"y":0.119},{"p":"6->7","c":"D1","x":0.053,"y":0.123},
{"p":"6->7","c":"D2","x":0.017,"y":0.01},{"p":"6->7","c":"D2","x":0.018,"y":0.035},{"p":"6->7","c":"D2","x":0.035,"y":0.05},{"p":"6->7","c":"D2","x":0.06,"y":0.055},{"p":"6->7","c":"D2","x":0.08,"y":0.045},{"p":"6->7","c":"D2","x":0.09,"y":0.02},{"p":"6->7","c":"D2","x":0.087,"y":0.0},{"p":"6->7","c":"D2","x":0.05,"y":-0.004},
{"p":"6->7","c":"D3","x":0.159,"y":0.03},{"p":"6->7","c":"D3","x":0.153,"y":0.051},{"p":"6->7","c":"D3","x":0.14,"y":0.06},{"p":"6->7","c":"D3","x":0.127,"y":0.051},{"p":"6->7","c":"D3","x":0.121,"y":0.03},{"p":"6->7","c":"D3","x":0.127,"y":0.009},{"p":"6->7","c":"D3","x":0.14,"y":0.0},{"p":"6->7","c":"D3","x":0.153,"y":0.009},

{"p":"7->8","c":"O","x":-0.03,"y":0.195},{"p":"7->8","c":"O","x":-0.03,"y":0.296},{"p":"7->8","c":"O","x":0.02,"y":0.296},{"p":"7->8","c":"O","x":0.06,"y":0.295},{"p":"7->8","c":"O","x":0.1,"y":0.292},{"p":"7->8","c":"O","x":0.13,"y":0.297},{"p":"7->8","c":"O","x":0.16,"y":0.292},{"p":"7->8","c":"O","x":0.19,"y":0.29},{"p":"7->8","c":"O","x":0.225,"y":0.305},{"p":"7->8","c":"O","x":0.258,"y":0.331},{"p":"7->8","c":"O","x":0.294,"y":0.328},{"p":"7->8","c":"O","x":0.324,"y":0.306},{"p":"7->8","c":"O","x":0.334,"y":0.262},{"p":"7->8","c":"O","x":0.326,"y":0.211},{"p":"7->8","c":"O","x":0.318,"y":0.167},{"p":"7->8","c":"O","x":0.318,"y":0.1},{"p":"7->8","c":"O","x":0.318,"y":-0.04},{"p":"7->8","c":"O","x":0.22,"y":-0.04},{"p":"7->8","c":"O","x":0.22,"y":0.1},{"p":"7->8","c":"O","x":0.227,"y":0.167},{"p":"7->8","c":"O","x":0.214,"y":0.189},{"p":"7->8","c":"O","x":0.188,"y":0.198},{"p":"7->8","c":"O","x":0.15,"y":0.192},{"p":"7->8","c":"O","x":0.11,"y":0.2},{"p":"7->8","c":"O","x":0.06,"y":0.195},{"p":"7->8","c":"O","x":0.02,"y":0.195},
{"p":"7->8","c":"S","x":-0.03,"y":0.218},{"p":"7->8","c":"S","x":-0.03,"y":0.276},{"p":"7->8","c":"S","x":0.03,"y":0.276},{"p":"7->8","c":"S","x":0.07,"y":0.262},{"p":"7->8","c":"S","x":0.1,"y":0.27},{"p":"7->8","c":"S","x":0.135,"y":0.276},{"p":"7->8","c":"S","x":0.17,"y":0.262},{"p":"7->8","c":"S","x":0.2,"y":0.28},{"p":"7->8","c":"S","x":0.23,"y":0.305},{"p":"7->8","c":"S","x":0.26,"y":0.321},{"p":"7->8","c":"S","x":0.295,"y":0.318},{"p":"7->8","c":"S","x":0.316,"y":0.292},{"p":"7->8","c":"S","x":0.323,"y":0.24},{"p":"7->8","c":"S","x":0.312,"y":0.18},{"p":"7->8","c":"S","x":0.303,"y":0.12},{"p":"7->8","c":"S","x":0.303,"y":-0.04},{"p":"7->8","c":"S","x":0.245,"y":-0.04},{"p":"7->8","c":"S","x":0.245,"y":0.12},{"p":"7->8","c":"S","x":0.238,"y":0.18},{"p":"7->8","c":"S","x":0.225,"y":0.21},{"p":"7->8","c":"S","x":0.2,"y":0.23},{"p":"7->8","c":"S","x":0.17,"y":0.238},{"p":"7->8","c":"S","x":0.135,"y":0.218},{"p":"7->8","c":"S","x":0.1,"y":0.235},{"p":"7->8","c":"S","x":0.07,"y":0.22},{"p":"7->8","c":"S","x":0.03,"y":0.218},
{"p":"7->8","c":"T","x":0.044,"y":0.247},{"p":"7->8","c":"T","x":0.041,"y":0.254},{"p":"7->8","c":"T","x":0.034,"y":0.257},{"p":"7->8","c":"T","x":0.027,"y":0.254},{"p":"7->8","c":"T","x":0.024,"y":0.247},{"p":"7->8","c":"T","x":0.027,"y":0.24},{"p":"7->8","c":"T","x":0.034,"y":0.237},{"p":"7->8","c":"T","x":0.041,"y":0.24},
{"p":"7->8","c":"R1","x":0.315,"y":0.24},{"p":"7->8","c":"R1","x":0.305,"y":0.288},{"p":"7->8","c":"R1","x":0.279,"y":0.308},{"p":"7->8","c":"R1","x":0.253,"y":0.288},{"p":"7->8","c":"R1","x":0.243,"y":0.24},{"p":"7->8","c":"R1","x":0.253,"y":0.192},{"p":"7->8","c":"R1","x":0.279,"y":0.172},{"p":"7->8","c":"R1","x":0.305,"y":0.192},
{"p":"7->8","c":"R2","x":0.311,"y":0.241},{"p":"7->8","c":"R2","x":0.302,"y":0.284},{"p":"7->8","c":"R2","x":0.279,"y":0.302},{"p":"7->8","c":"R2","x":0.256,"y":0.284},{"p":"7->8","c":"R2","x":0.247,"y":0.241},{"p":"7->8","c":"R2","x":0.256,"y":0.198},{"p":"7->8","c":"R2","x":0.279,"y":0.18},{"p":"7->8","c":"R2","x":0.302,"y":0.198},
{"p":"7->8","c":"R3","x":0.308,"y":0.242},{"p":"7->8","c":"R3","x":0.3,"y":0.28},{"p":"7->8","c":"R3","x":0.279,"y":0.296},{"p":"7->8","c":"R3","x":0.258,"y":0.28},{"p":"7->8","c":"R3","x":0.25,"y":0.242},{"p":"7->8","c":"R3","x":0.258,"y":0.204},{"p":"7->8","c":"R3","x":0.279,"y":0.188},{"p":"7->8","c":"R3","x":0.3,"y":0.204},
{"p":"7->8","c":"R4","x":0.304,"y":0.243},{"p":"7->8","c":"R4","x":0.297,"y":0.277},{"p":"7->8","c":"R4","x":0.279,"y":0.291},{"p":"7->8","c":"R4","x":0.261,"y":0.277},{"p":"7->8","c":"R4","x":0.254,"y":0.243},{"p":"7->8","c":"R4","x":0.261,"y":0.209},{"p":"7->8","c":"R4","x":0.279,"y":0.195},{"p":"7->8","c":"R4","x":0.297,"y":0.209},
{"p":"7->8","c":"R5","x":0.301,"y":0.244},{"p":"7->8","c":"R5","x":0.295,"y":0.274},{"p":"7->8","c":"R5","x":0.279,"y":0.286},{"p":"7->8","c":"R5","x":0.263,"y":0.274},{"p":"7->8","c":"R5","x":0.257,"y":0.244},{"p":"7->8","c":"R5","x":0.263,"y":0.214},{"p":"7->8","c":"R5","x":0.279,"y":0.202},{"p":"7->8","c":"R5","x":0.295,"y":0.214},
{"p":"7->8","c":"R6","x":0.298,"y":0.245},{"p":"7->8","c":"R6","x":0.292,"y":0.271},{"p":"7->8","c":"R6","x":0.279,"y":0.281},{"p":"7->8","c":"R6","x":0.266,"y":0.271},{"p":"7->8","c":"R6","x":0.26,"y":0.245},{"p":"7->8","c":"R6","x":0.266,"y":0.22},{"p":"7->8","c":"R6","x":0.279,"y":0.209},{"p":"7->8","c":"R6","x":0.292,"y":0.22},
{"p":"7->8","c":"R7","x":0.295,"y":0.245},{"p":"7->8","c":"R7","x":0.29,"y":0.266},{"p":"7->8","c":"R7","x":0.279,"y":0.275},{"p":"7->8","c":"R7","x":0.268,"y":0.266},{"p":"7->8","c":"R7","x":0.263,"y":0.245},{"p":"7->8","c":"R7","x":0.268,"y":0.224},{"p":"7->8","c":"R7","x":0.279,"y":0.215},{"p":"7->8","c":"R7","x":0.29,"y":0.224},
{"p":"7->8","c":"R8","x":0.292,"y":0.246},{"p":"7->8","c":"R8","x":0.288,"y":0.263},{"p":"7->8","c":"R8","x":0.279,"y":0.27},{"p":"7->8","c":"R8","x":0.27,"y":0.263},{"p":"7->8","c":"R8","x":0.266,"y":0.246},{"p":"7->8","c":"R8","x":0.27,"y":0.229},{"p":"7->8","c":"R8","x":0.279,"y":0.222},{"p":"7->8","c":"R8","x":0.288,"y":0.229},
{"p":"7->8","c":"R9","x":0.289,"y":0.246},{"p":"7->8","c":"R9","x":0.286,"y":0.259},{"p":"7->8","c":"R9","x":0.279,"y":0.264},{"p":"7->8","c":"R9","x":0.272,"y":0.259},{"p":"7->8","c":"R9","x":0.269,"y":0.246},{"p":"7->8","c":"R9","x":0.272,"y":0.233},{"p":"7->8","c":"R9","x":0.279,"y":0.228},{"p":"7->8","c":"R9","x":0.286,"y":0.233},
{"p":"7->8","c":"R10","x":0.285,"y":0.247},{"p":"7->8","c":"R10","x":0.283,"y":0.256},{"p":"7->8","c":"R10","x":0.279,"y":0.259},{"p":"7->8","c":"R10","x":0.275,"y":0.256},{"p":"7->8","c":"R10","x":0.273,"y":0.247},{"p":"7->8","c":"R10","x":0.275,"y":0.238},{"p":"7->8","c":"R10","x":0.279,"y":0.235},{"p":"7->8","c":"R10","x":0.283,"y":0.238},
{"p":"7->8","c":"R11","x":0.282,"y":0.247},{"p":"7->8","c":"R11","x":0.281,"y":0.251},{"p":"7->8","c":"R11","x":0.279,"y":0.253},{"p":"7->8","c":"R11","x":0.277,"y":0.251},{"p":"7->8","c":"R11","x":0.276,"y":0.247},{"p":"7->8","c":"R11","x":0.277,"y":0.243},{"p":"7->8","c":"R11","x":0.279,"y":0.241},{"p":"7->8","c":"R11","x":0.281,"y":0.243},
{"p":"7->8","c":"V1","x":0.296,"y":0.112},{"p":"7->8","c":"V1","x":0.291,"y":0.13},{"p":"7->8","c":"V1","x":0.278,"y":0.138},{"p":"7->8","c":"V1","x":0.265,"y":0.13},{"p":"7->8","c":"V1","x":0.26,"y":0.112},{"p":"7->8","c":"V1","x":0.265,"y":0.094},{"p":"7->8","c":"V1","x":0.278,"y":0.086},{"p":"7->8","c":"V1","x":0.291,"y":0.094},
{"p":"7->8","c":"W1","x":0.3,"y":0.035},{"p":"7->8","c":"W1","x":0.294,"y":0.06},{"p":"7->8","c":"W1","x":0.28,"y":0.07},{"p":"7->8","c":"W1","x":0.266,"y":0.06},{"p":"7->8","c":"W1","x":0.26,"y":0.035},{"p":"7->8","c":"W1","x":0.266,"y":0.01},{"p":"7->8","c":"W1","x":0.28,"y":0.0},{"p":"7->8","c":"W1","x":0.294,"y":0.01},
{"p":"7->8","c":"W2","x":0.282,"y":0.028},{"p":"7->8","c":"W2","x":0.281,"y":0.036},{"p":"7->8","c":"W2","x":0.279,"y":0.04},{"p":"7->8","c":"W2","x":0.277,"y":0.036},{"p":"7->8","c":"W2","x":0.276,"y":0.028},{"p":"7->8","c":"W2","x":0.277,"y":0.02},{"p":"7->8","c":"W2","x":0.279,"y":0.016},{"p":"7->8","c":"W2","x":0.281,"y":0.02},
{"p":"7->8","c":"D1","x":0.006,"y":0.075},{"p":"7->8","c":"D1","x":0.01,"y":0.105},{"p":"7->8","c":"D1","x":0.02,"y":0.124},{"p":"7->8","c":"D1","x":0.04,"y":0.129},{"p":"7->8","c":"D1","x":0.058,"y":0.116},{"p":"7->8","c":"D1","x":0.054,"y":0.092},{"p":"7->8","c":"D1","x":0.064,"y":0.066},{"p":"7->8","c":"D1","x":0.096,"y":0.033},{"p":"7->8","c":"D1","x":0.118,"y":0.013},{"p":"7->8","c":"D1","x":0.135,"y":0.006},{"p":"7->8","c":"D1","x":0.15,"y":0.017},{"p":"7->8","c":"D1","x":0.156,"y":0.045},{"p":"7->8","c":"D1","x":0.145,"y":0.067},{"p":"7->8","c":"D1","x":0.126,"y":0.062},{"p":"7->8","c":"D1","x":0.096,"y":0.033},{"p":"7->8","c":"D1","x":0.05,"y":0.018},{"p":"7->8","c":"D1","x":0.005,"y":0.006},{"p":"7->8","c":"D1","x":-0.03,"y":0.0},{"p":"7->8","c":"D1","x":-0.04,"y":0.03},{"p":"7->8","c":"D1","x":-0.03,"y":0.06},

{"p":"8->9","c":"O","x":-0.03,"y":0.19},{"p":"8->9","c":"O","x":-0.03,"y":0.306},{"p":"8->9","c":"O","x":0.03,"y":0.307},{"p":"8->9","c":"O","x":0.07,"y":0.31},{"p":"8->9","c":"O","x":0.11,"y":0.306},{"p":"8->9","c":"O","x":0.14,"y":0.29},{"p":"8->9","c":"O","x":0.165,"y":0.277},{"p":"8->9","c":"O","x":0.185,"y":0.3},{"p":"8->9","c":"O","x":0.21,"y":0.33},{"p":"8->9","c":"O","x":0.25,"y":0.342},{"p":"8->9","c":"O","x":0.29,"y":0.335},{"p":"8->9","c":"O","x":0.31,"y":0.31},{"p":"8->9","c":"O","x":0.318,"y":0.25},{"p":"8->9","c":"O","x":0.31,"y":0.18},{"p":"8->9","c":"O","x":0.306,"y":0.1},{"p":"8->9","c":"O","x":0.306,"y":-0.04},{"p":"8->9","c":"O","x":0.195,"y":-0.04},{"p":"8->9","c":"O","x":0.195,"y":0.1},{"p":"8->9","c":"O","x":0.197,"y":0.18},{"p":"8->9","c":"O","x":0.19,"y":0.21},{"p":"8->9","c":"O","x":0.165,"y":0.22},{"p":"8->9","c":"O","x":0.13,"y":0.218},{"p":"8->9","c":"O","x":0.08,"y":0.2},{"p":"8->9","c":"O","x":0.03,"y":0.19},
{"p":"8->9","c":"S","x":0.198,"y":0.26},{"p":"8->9","c":"S","x":0.21,"y":0.3},{"p":"8->9","c":"S","x":0.25,"y":0.322},{"p":"8->9","c":"S","x":0.285,"y":0.305},{"p":"8->9","c":"S","x":0.298,"y":0.26},{"p":"8->9","c":"S","x":0.292,"y":0.19},{"p":"8->9","c":"S","x":0.288,"y":0.1},{"p":"8->9","c":"S","x":0.288,"y":-0.04},{"p":"8->9","c":"S","x":0.213,"y":-0.04},{"p":"8->9","c":"S","x":0.213,"y":0.1},{"p":"8->9","c":"S","x":0.21,"y":0.19},{"p":"8->9","c":"S","x":0.2,"y":0.225},
{"p":"8->9","c":"R1","x":0.287,"y":0.249},{"p":"8->9","c":"R1","x":0.277,"y":0.288},{"p":"8->9","c":"R1","x":0.251,"y":0.304},{"p":"8->9","c":"R1","x":0.225,"y":0.288},{"p":"8->9","c":"R1","x":0.215,"y":0.249},{"p":"8->9","c":"R1","x":0.225,"y":0.21},{"p":"8->9","c":"R1","x":0.251,"y":0.194},{"p":"8->9","c":"R1","x":0.277,"y":0.21},
{"p":"8->9","c":"R2","x":0.279,"y":0.249},{"p":"8->9","c":"R2","x":0.271,"y":0.278},{"p":"8->9","c":"R2","x":0.251,"y":0.29},{"p":"8->9","c":"R2","x":0.231,"y":0.278},{"p":"8->9","c":"R2","x":0.223,"y":0.249},{"p":"8->9","c":"R2","x":0.231,"y":0.22},{"p":"8->9","c":"R2","x":0.251,"y":0.208},{"p":"8->9","c":"R2","x":0.271,"y":0.22},
{"p":"8->9","c":"R3","x":0.271,"y":0.249},{"p":"8->9","c":"R3","x":0.265,"y":0.269},{"p":"8->9","c":"R3","x":0.251,"y":0.277},{"p":"8->9","c":"R3","x":0.237,"y":0.269},{"p":"8->9","c":"R3","x":0.231,"y":0.249},{"p":"8->9","c":"R3","x":0.237,"y":0.229},{"p":"8->9","c":"R3","x":0.251,"y":0.221},{"p":"8->9","c":"R3","x":0.265,"y":0.229},
{"p":"8->9","c":"R4","x":0.262,"y":0.249},{"p":"8->9","c":"R4","x":0.259,"y":0.26},{"p":"8->9","c":"R4","x":0.251,"y":0.265},{"p":"8->9","c":"R4","x":0.243,"y":0.26},{"p":"8->9","c":"R4","x":0.24,"y":0.249},{"p":"8->9","c":"R4","x":0.243,"y":0.238},{"p":"8->9","c":"R4","x":0.251,"y":0.233},{"p":"8->9","c":"R4","x":0.259,"y":0.238},
{"p":"8->9","c":"A","x":0.071,"y":0.251},{"p":"8->9","c":"A","x":0.063,"y":0.272},{"p":"8->9","c":"A","x":0.042,"y":0.28},{"p":"8->9","c":"A","x":0.021,"y":0.272},{"p":"8->9","c":"A","x":0.013,"y":0.251},{"p":"8->9","c":"A","x":0.021,"y":0.23},{"p":"8->9","c":"A","x":0.042,"y":0.222},{"p":"8->9","c":"A","x":0.063,"y":0.23},
{"p":"8->9","c":"B","x":0.126,"y":0.258},{"p":"8->9","c":"B","x":0.122,"y":0.269},{"p":"8->9","c":"B","x":0.113,"y":0.273},{"p":"8->9","c":"B","x":0.104,"y":0.269},{"p":"8->9","c":"B","x":0.1,"y":0.258},{"p":"8->9","c":"B","x":0.104,"y":0.247},{"p":"8->9","c":"B","x":0.113,"y":0.243},{"p":"8->9","c":"B","x":0.122,"y":0.247},
{"p":"8->9","c":"E","x":0.036,"y":0.122},{"p":"8->9","c":"E","x":0.033,"y":0.135},{"p":"8->9","c":"E","x":0.026,"y":0.14},{"p":"8->9","c":"E","x":0.019,"y":0.135},{"p":"8->9","c":"E","x":0.016,"y":0.122},{"p":"8->9","c":"E","x":0.019,"y":0.109},{"p":"8->9","c":"E","x":0.026,"y":0.104},{"p":"8->9","c":"E","x":0.033,"y":0.109},
{"p":"8->9","c":"D","x":-0.03,"y":0.045},{"p":"8->9","c":"D","x":0.007,"y":0.054},{"p":"8->9","c":"D","x":0.033,"y":0.072},{"p":"8->9","c":"D","x":0.055,"y":0.062},{"p":"8->9","c":"D","x":0.078,"y":0.05},{"p":"8->9","c":"D","x":0.1,"y":0.065},{"p":"8->9","c":"D","x":0.117,"y":0.076},{"p":"8->9","c":"D","x":0.138,"y":0.06},{"p":"8->9","c":"D","x":0.15,"y":0.03},{"p":"8->9","c":"D","x":0.152,"y":-0.01},{"p":"8->9","c":"D","x":0.15,"y":-0.03},{"p":"8->9","c":"D","x":-0.03,"y":-0.03},
{"p":"8->9","c":"W1","x":0.269,"y":0.025},{"p":"8->9","c":"W1","x":0.264,"y":0.044},{"p":"8->9","c":"W1","x":0.251,"y":0.052},{"p":"8->9","c":"W1","x":0.238,"y":0.044},{"p":"8->9","c":"W1","x":0.233,"y":0.025},{"p":"8->9","c":"W1","x":0.238,"y":0.006},{"p":"8->9","c":"W1","x":0.251,"y":-0.002},{"p":"8->9","c":"W1","x":0.264,"y":0.006}
]},
"facet": {"column": {"field": "p", "type": "nominal", "title": "Previous Feature Set Prob",
  "header": {"labels": false, "titleOrient": "bottom", "titleFontSize": 12.5, "titleFontWeight": "normal", "titleColor": "#000000", "titlePadding": -6, "titleFont": "Liberation Sans"}}},
"spec": {
  "width": 90, "height": 188.3,
  "layer": [
    {"transform": [{"aggregate": [{"op": "count", "as": "n"}], "groupby": ["p"]}],
     "mark": {"type": "rule", "color": "#f4f4f4", "strokeWidth": 1},
     "encoding": {"x": {"datum": 0.05}}},
    {"transform": [{"aggregate": [{"op": "count", "as": "n"}], "groupby": ["p"]}],
     "mark": {"type": "rule", "color": "#f4f4f4", "strokeWidth": 1},
     "encoding": {"x": {"datum": 0.15}}},
    {"transform": [{"aggregate": [{"op": "count", "as": "n"}], "groupby": ["p"]}],
     "mark": {"type": "rule", "color": "#f4f4f4", "strokeWidth": 1},
     "encoding": {"x": {"datum": 0.25}}},
    {"mark": {"type": "line", "interpolate": "cardinal-closed", "clip": true, "color": "#E41A1C", "strokeWidth": 1.2},
     "encoding": {
       "x": {"field": "x", "type": "quantitative", "scale": {"domain": [-0.0129, 0.3387], "nice": false, "zero": false},
         "axis": {"title": null, "values": [0, 0.1, 0.2, 0.3], "format": ".1f", "labelOverlap": false, "labelSeparation": -30, "labelBound": false, "tickCount": 4,
           "gridColor": "#e6e6e6",
           "tickColor": "#333333", "tickSize": 4, "labelPadding": 2, "domain": false, "labelFontSize": 10, "labelColor": "#222222", "labelFlush": false, "labelFont": "Liberation Sans"}},
       "y": {"field": "y", "type": "quantitative", "scale": {"domain": [-0.0169, 0.3955], "nice": false, "zero": false},
         "axis": {"title": "Next Feature Set Prob", "values": [0, 0.05, 0.1, 0.15, 0.2, 0.25, 0.3, 0.35], "labelExpr": "round(datum.value*100) % 10 == 0 ? format(datum.value, '.1f') : ''",
           "labelOverlap": false,
           "gridColor": {"condition": {"test": "round(datum.value*100) % 10 != 0", "value": "#f4f4f4"}, "value": "#e6e6e6"},
           "tickOpacity": {"condition": {"test": "round(datum.value*100) % 10 != 0", "value": 0}, "value": 1},
           "tickColor": "#333333", "tickSize": 4, "labelPadding": 5, "domain": false, "labelFontSize": 10, "labelColor": "#222222", "labelFlush": false, "labelFont": "Liberation Sans",
           "titleFontSize": 12.5, "titleFontWeight": "normal", "titleColor": "#000000", "titlePadding": 3, "titleFont": "Liberation Sans"}},
       "detail": {"field": "c", "type": "nominal"},
       "order": {"value": null}
     }},
    {"transform": [{"aggregate": [{"op": "count", "as": "n"}], "groupby": ["p"]}],
     "mark": {"type": "rect", "fill": "#cccccc", "stroke": "#7f7f7f", "strokeWidth": 1},
     "encoding": {"x": {"datum": -0.0129}, "x2": {"datum": 0.3387}, "y": {"datum": 0.358}, "y2": {"datum": 0.3955}}},
    {"transform": [{"aggregate": [{"op": "count", "as": "n"}], "groupby": ["p"]}],
     "mark": {"type": "text", "fontSize": 11.5, "color": "#1a1a1a", "font": "Liberation Sans", "baseline": "middle", "align": "center"},
     "encoding": {"x": {"datum": 0.1629}, "y": {"datum": 0.3765}, "text": {"field": "p"}}}
  ]
}
}
